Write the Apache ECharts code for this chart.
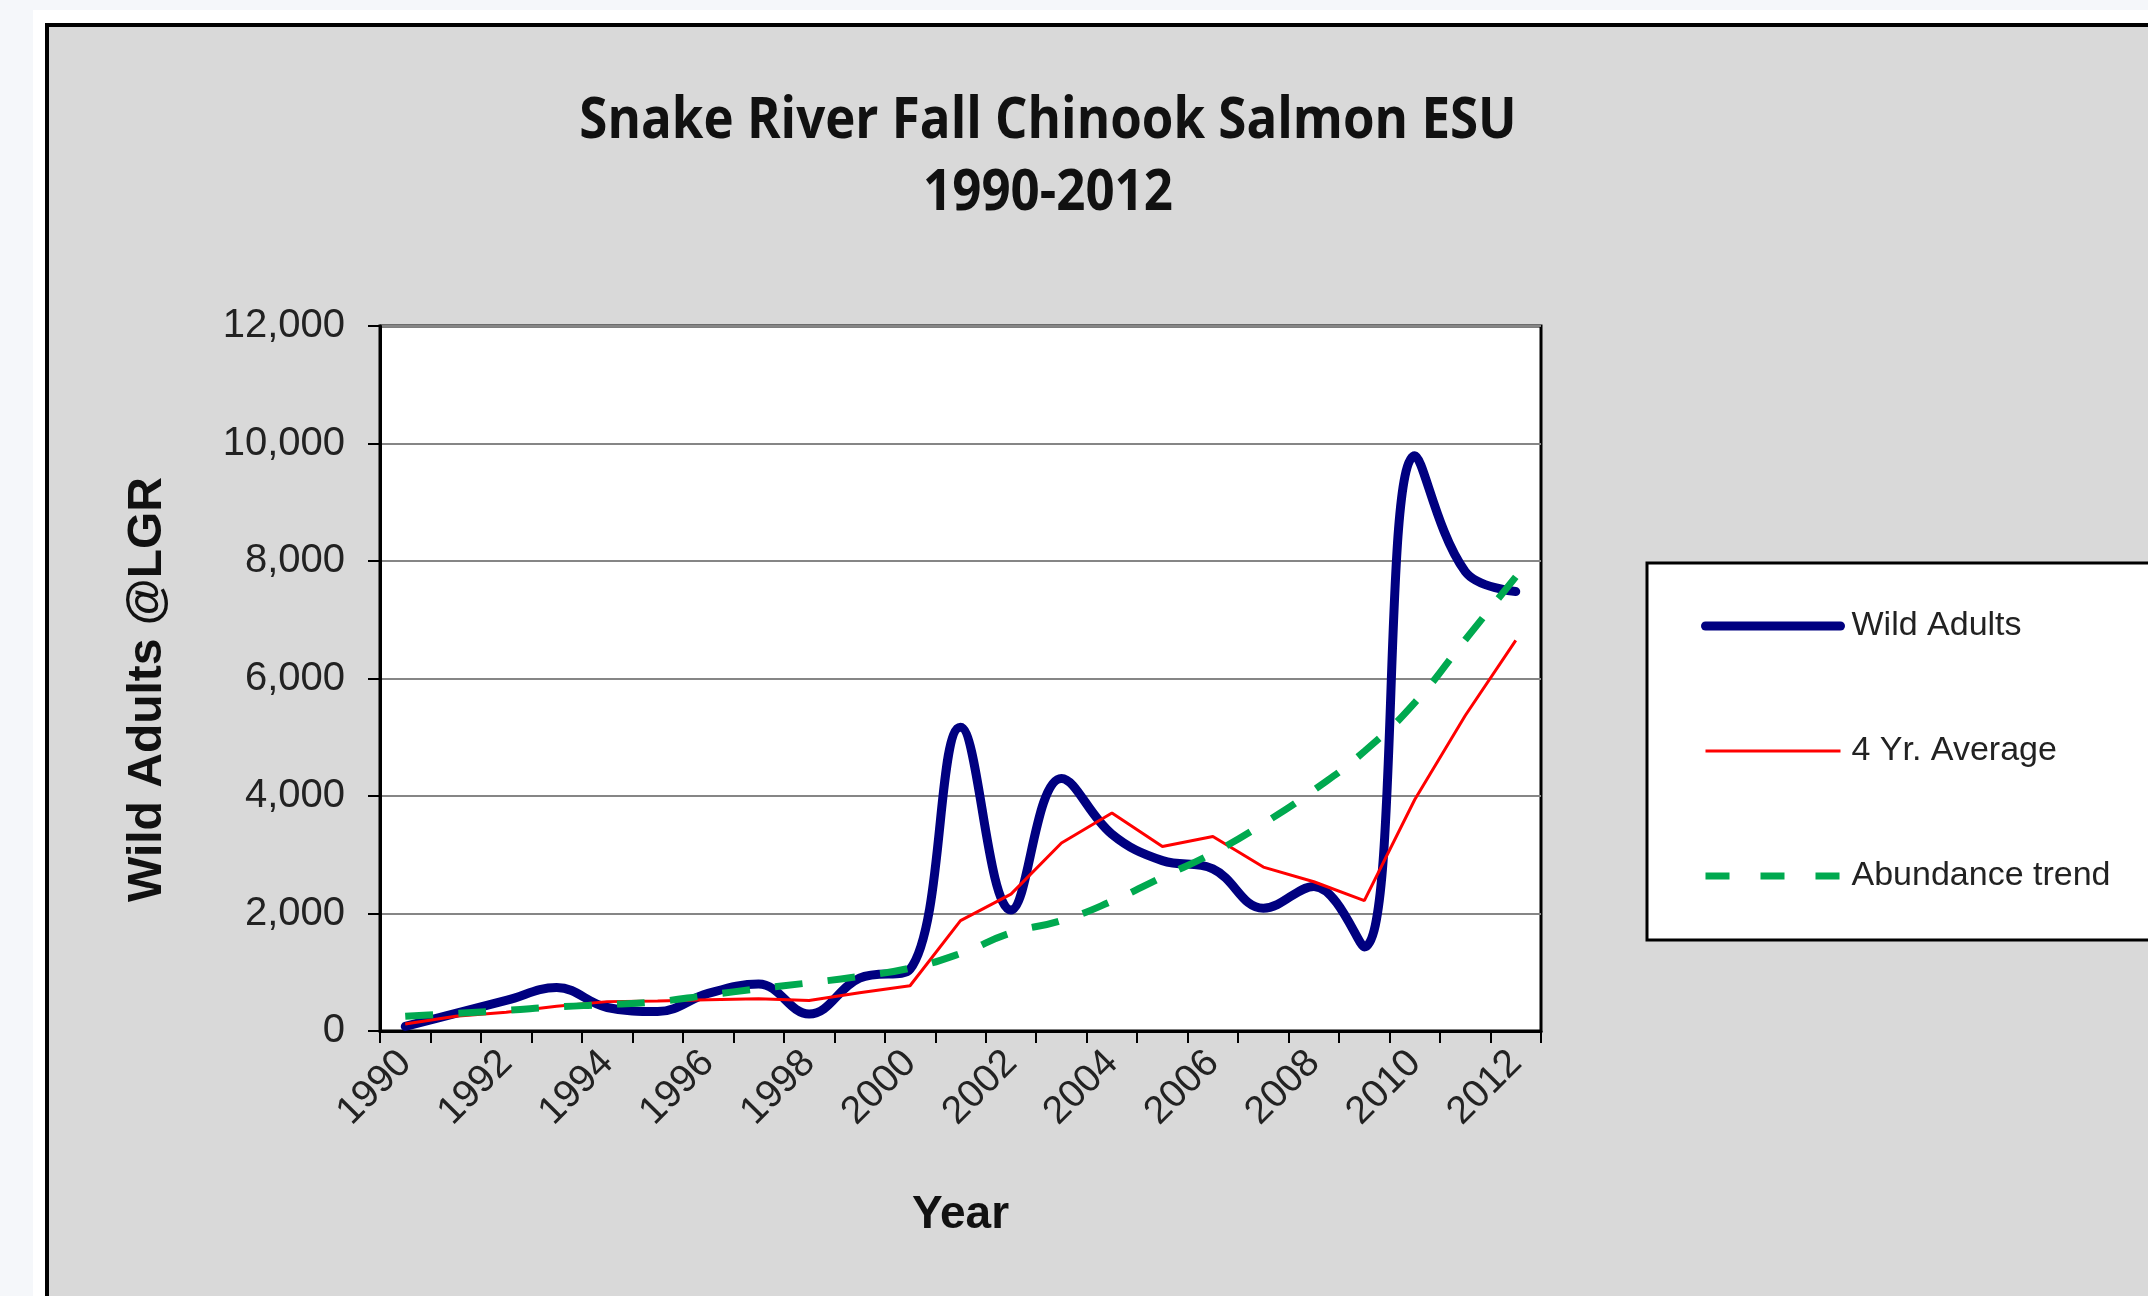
<!DOCTYPE html>
<html>
<head>
<meta charset="utf-8">
<title>Snake River Fall Chinook Salmon ESU</title>
<script src="https://cdn.jsdelivr.net/npm/echarts@6/dist/echarts.min.js"></script>
<style>
  html, body { margin: 0; padding: 0; background: #f5f7fa; }
  #main { width: 2148px; height: 1296px; }
</style>
</head>
<body>
<div id="main"></div>
<script>
// values
var years = ['1990', '1991', '1992', '1993', '1994', '1995', '1996', '1997', '1998', '1999', '2000', '2001',
  '2002', '2003', '2004', '2005', '2006', '2007', '2008', '2009', '2010', '2011', '2012']
var wildAdults = [78, 300, 520, 740, 400, 330, 640, 800, 290, 900, 1050, 5170,
  2060, 4300, 3350, 2900, 2760, 2090, 2460, 1430, 9790, 7820, 7480]
var fourYrAverage = [120, 250, 320, 420, 500, 510, 530, 550, 520, 650, 770, 1880,
  2330, 3200, 3710, 3140, 3310, 2790, 2540, 2220, 3940, 5370, 6650]
var abundanceTrend = [250, 300, 350, 410, 450, 500, 610, 720, 820, 930, 1070, 1320,
  1670, 1880, 2210, 2620, 3030, 3530, 4100, 4760, 5590, 6660, 7730]
var yMin = 0
var yMax = 12000
var yStep = 2000

var titleFont = 'bold 58px "Open Sans", sans-serif'
var chart = echarts.init(document.getElementById('main'))

var option = {
  backgroundColor: '#f5f7fa',
  animation: false,
  graphic: [
    { type: 'rect', z: -20, shape: { x: 33, y: 10, width: 2200, height: 1400 }, style: { fill: '#ffffff' } },
    { type: 'rect', z: -10, shape: { x: 47, y: 25, width: 2200, height: 1400 }, style: { fill: '#d9d9d9', stroke: '#000', lineWidth: 4 } },
    {
      // title text squeezed a little to look like the narrow original face
      type: 'text', x: 1048, y: 121, scaleX: 0.88,
      style: { text: 'Snake River Fall Chinook Salmon ESU', align: 'center', verticalAlign: 'middle', fill: '#111', font: titleFont }
    },
    {
      type: 'text', x: 1048, y: 193, scaleX: 0.88,
      style: { text: '1990-2012', align: 'center', verticalAlign: 'middle', fill: '#111', font: titleFont }
    }
  ],
  grid: {
    left: 380,
    right: 607,
    top: 326,
    bottom: 265,
    show: true,
    backgroundColor: '#ffffff',
    borderColor: '#000',
    borderWidth: 3
  },
  legend: {
    orient: 'vertical',
    left: 1647,
    top: 563,
    padding: [46, 120, 47, 54],
    itemGap: 91,
    itemWidth: 135,
    itemHeight: 14,
    backgroundColor: '#ffffff',
    borderColor: '#000',
    borderWidth: 3,
    textStyle: { fontFamily: 'Liberation Sans', fontSize: 34, color: '#222', padding: [0, 0, 0, 6] },
    data: [
      { name: 'Wild Adults', itemStyle: { opacity: 0 }, lineStyle: { width: 9, cap: 'round' } },
      { name: '4 Yr. Average', itemStyle: { opacity: 0 }, lineStyle: { width: 3 } },
      { name: 'Abundance trend', itemStyle: { opacity: 0 }, lineStyle: { width: 7, type: [24, 31] } }
    ]
  },
  xAxis: {
    type: 'category',
    data: years,
    boundaryGap: true,
    name: 'Year',
    nameLocation: 'middle',
    nameGap: 161,
    nameTextStyle: { fontFamily: 'Liberation Sans', fontWeight: 'bold', fontSize: 46, color: '#111' },
    axisLine: { lineStyle: { color: '#000', width: 3 } },
    axisTick: { show: true, interval: 0, length: 12, lineStyle: { color: '#000', width: 2 } },
    axisLabel: { interval: 1, rotate: 45, margin: 26, fontFamily: 'Liberation Sans', fontSize: 39, color: '#222' },
    splitLine: { show: false }
  },
  yAxis: {
    type: 'value',
    min: yMin,
    max: yMax,
    interval: yStep,
    name: 'Wild Adults @LGR',
    nameLocation: 'middle',
    nameRotate: 90,
    nameGap: 208,
    nameTextStyle: { fontFamily: 'Liberation Sans', fontWeight: 'bold', fontSize: 48, color: '#111', padding: [0, 22, 0, 0] },
    axisLine: { show: true, lineStyle: { color: '#000', width: 3 } },
    axisTick: { show: true, length: 12, lineStyle: { color: '#000', width: 2 } },
    axisLabel: {
      margin: 35,
      fontFamily: 'Liberation Sans',
      fontSize: 40,
      color: '#222',
      formatter: function (v) { return v.toLocaleString('en-US') }
    },
    splitLine: { show: true, lineStyle: { color: '#868686', width: 2 } }
  },
  series: [
    {
      name: 'Wild Adults',
      type: 'line',
      data: wildAdults,
      smooth: 0.4,
      symbol: 'none',
      z: 3,
      lineStyle: { color: '#000080', width: 9, cap: 'round' },
      itemStyle: { color: '#000080' }
    },
    {
      name: '4 Yr. Average',
      type: 'line',
      data: fourYrAverage,
      symbol: 'none',
      z: 4,
      lineStyle: { color: '#ff0000', width: 3 },
      itemStyle: { color: '#ff0000' }
    },
    {
      name: 'Abundance trend',
      type: 'line',
      data: abundanceTrend,
      smooth: true,
      symbol: 'none',
      z: 5,
      lineStyle: { color: '#00a94f', width: 7, type: [28, 25] },
      itemStyle: { color: '#00a94f' }
    }
  ]
}

chart.setOption(option)
</script>
</body>
</html>
